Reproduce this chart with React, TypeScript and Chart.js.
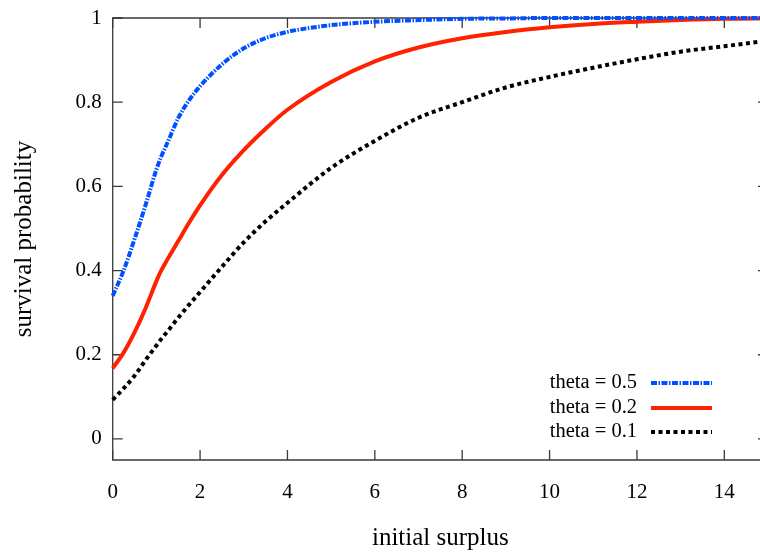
import React, { useEffect, useRef } from "react";
import { Chart, registerables } from "chart.js";

Chart.register(...registerables);

const xValues = [0, 0.25, 0.5, 0.75, 1, 1.1, 1.25, 1.5, 1.75, 2, 2.5, 3, 3.5, 4, 5, 6, 7, 8, 9, 10, 11, 12, 13, 14, 15];
const theta05 = [0.34, 0.4, 0.475, 0.555, 0.64, 0.668, 0.703, 0.762, 0.805, 0.838, 0.89, 0.928, 0.952, 0.967, 0.983, 0.991, 0.995, 0.998, 0.999, 1, 1, 1, 1, 1, 1];
const theta02 = [0.168, 0.205, 0.253, 0.31, 0.375, 0.398, 0.426, 0.47, 0.514, 0.555, 0.627, 0.686, 0.737, 0.782, 0.848, 0.897, 0.93, 0.952, 0.967, 0.978, 0.986, 0.991, 0.995, 0.998, 0.999];
const theta01 = [0.093, 0.12, 0.15, 0.187, 0.222, 0.236, 0.255, 0.288, 0.319, 0.349, 0.409, 0.467, 0.517, 0.561, 0.644, 0.708, 0.763, 0.8, 0.835, 0.86, 0.882, 0.902, 0.92, 0.933, 0.946];

const xTicks = [0, 2, 4, 6, 8, 10, 12, 14];
const yTicks = [0, 0.2, 0.4, 0.6, 0.8, 1];
const seriesLabels = ["theta = 0.5", "theta = 0.2", "theta = 0.1"];

const FONT = "'Liberation Serif', 'Times New Roman', serif";

export default function App() {
  const ref = useRef<HTMLCanvasElement | null>(null);

  useEffect(() => {
    document.body.style.margin = "0";
    document.body.style.overflow = "hidden";
    const canvas = ref.current!;
    const toPts = (ys: number[]) => xValues.map((x, i) => ({ x, y: ys[i] }));

    const framePlugin = {
      id: "frame",
      beforeDatasetsDraw(chart: any) {
        const { ctx, chartArea: a, scales } = chart;
        ctx.save();
        ctx.strokeStyle = "#3a3a3a";
        ctx.lineWidth = 1.3;
        ctx.beginPath();
        ctx.rect(a.left, a.top, a.right - a.left, a.bottom - a.top);
        ctx.stroke();
        const tl = 10;
        ctx.beginPath();
        xTicks.forEach((v) => {
          const px = scales.x.getPixelForValue(v);
          ctx.moveTo(px, a.bottom);
          ctx.lineTo(px, a.bottom - tl);
          ctx.moveTo(px, a.top);
          ctx.lineTo(px, a.top + tl);
        });
        yTicks.forEach((v) => {
          const py = scales.y.getPixelForValue(v);
          ctx.moveTo(a.left, py);
          ctx.lineTo(a.left + tl, py);
          ctx.moveTo(a.right, py);
          ctx.lineTo(a.right - tl, py);
        });
        ctx.stroke();
        ctx.restore();
      },
      afterDraw(chart: any) {
        const { ctx, chartArea: a } = chart;
        ctx.save();
        ctx.fillStyle = "#000";
        ctx.font = `25px ${FONT}`;
        ctx.textAlign = "center";
        ctx.textBaseline = "middle";
        ctx.translate(24, (a.top + a.bottom) / 2);
        ctx.rotate(-Math.PI / 2);
        ctx.fillText("survival probability", 0, 0);
        ctx.restore();

        ctx.save();
        ctx.font = `20.5px ${FONT}`;
        ctx.textAlign = "right";
        ctx.textBaseline = "middle";
        const rows = [383, 408, 432];
        chart.data.datasets.forEach((ds: any, i: number) => {
          ctx.fillStyle = "#000";
          ctx.fillText(seriesLabels[i], 637, rows[i]);
          ctx.strokeStyle = ds.borderColor;
          ctx.lineWidth = ds.borderWidth;
          ctx.setLineDash(ds.borderDash || []);
          ctx.lineCap = "butt";
          ctx.beginPath();
          ctx.moveTo(651, rows[i]);
          ctx.lineTo(712, rows[i]);
          ctx.stroke();
        });
        ctx.restore();
      },
    };

    const chart = new Chart(canvas, {
      type: "line",
      data: {
        datasets: [
          {
            label: seriesLabels[0],
            data: toPts(theta05),
            borderColor: "#0050ff",
            borderWidth: 4,
            borderDash: [6, 1.5, 1.5, 1.5],
            pointRadius: 0,
            cubicInterpolationMode: "monotone",
            clip: false,
          },
          {
            label: seriesLabels[1],
            data: toPts(theta02),
            borderColor: "#ff2200",
            borderWidth: 4,
            pointRadius: 0,
            cubicInterpolationMode: "monotone",
            clip: false,
          },
          {
            label: seriesLabels[2],
            data: toPts(theta01),
            borderColor: "#000000",
            borderWidth: 4,
            borderDash: [4, 3.5],
            pointRadius: 0,
            cubicInterpolationMode: "monotone",
            clip: false,
          },
        ],
      },
      options: {
        animation: false,
        responsive: false,
        layout: { padding: { top: 18, right: 12, left: 0, bottom: 0 } },
        plugins: { legend: { display: false }, tooltip: { enabled: false } },
        scales: {
          x: {
            type: "linear",
            min: 0,
            max: 15,
            afterBuildTicks: (s: any) => {
              s.ticks = xTicks.map((v) => ({ value: v }));
            },
            afterFit: (s: any) => {
              s.height = 92;
              s.paddingLeft = 0;
              s.paddingRight = 0;
            },
            grid: { display: false, drawTicks: false },
            border: { display: false },
            ticks: {
              color: "#000",
              font: { family: FONT, size: 21 },
              padding: 20,
              maxRotation: 0,
              autoSkip: false,
              callback: (v: any) => String(v),
            },
            title: {
              display: true,
              text: "initial surplus",
              color: "#000",
              font: { family: FONT, size: 25, lineHeight: 1.1 },
              padding: { top: 0, bottom: 0 },
            },
          },
          y: {
            type: "linear",
            min: -0.05,
            max: 1,
            afterBuildTicks: (s: any) => {
              s.ticks = yTicks.map((v) => ({ value: v }));
            },
            afterFit: (s: any) => {
              s.width = 112.7;
              s.paddingTop = 0;
              s.paddingBottom = 0;
            },
            grid: { display: false, drawTicks: false },
            border: { display: false },
            ticks: {
              color: "#000",
              font: { family: FONT, size: 21 },
              padding: 11,
              autoSkip: false,
              callback: (v: any) => String(Math.round(v * 10) / 10),
            },
          },
        },
      },
      plugins: [framePlugin],
    });
    return () => chart.destroy();
  }, []);

  return (
    <div style={{ width: 760, height: 552, overflow: "hidden" }}>
      <canvas ref={ref} width={780} height={552} style={{ display: "block" }} />
    </div>
  );
}
